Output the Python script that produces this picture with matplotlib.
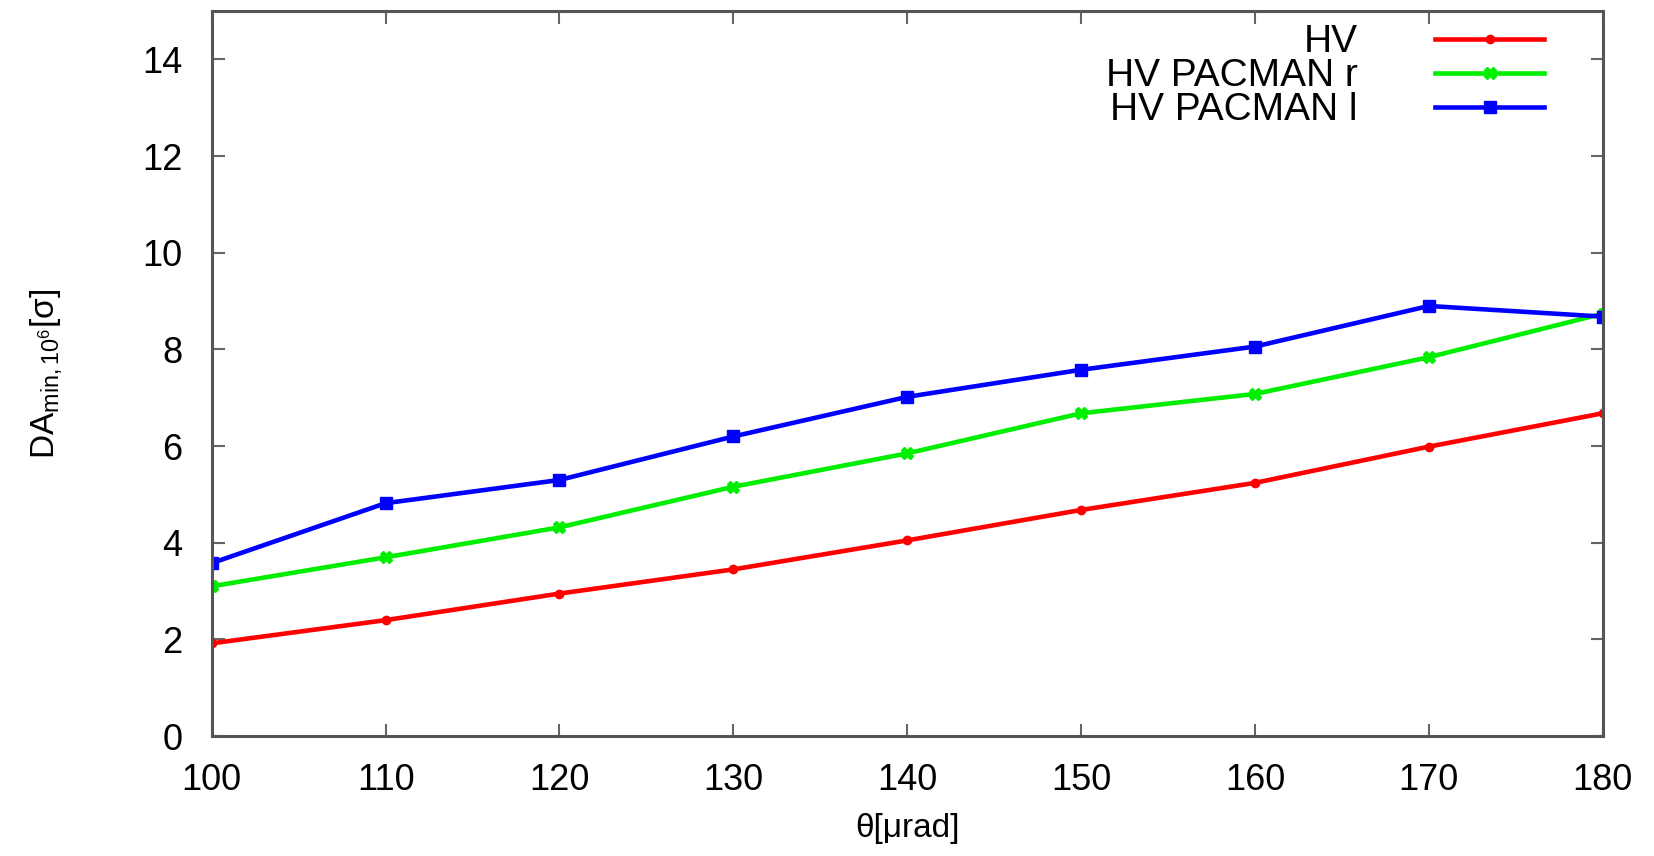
import numpy as np
import matplotlib
matplotlib.use("Agg")
import matplotlib.pyplot as plt

plt.rcParams['font.family'] = ['Liberation Sans', 'DejaVu Sans']
plt.rcParams['mathtext.fontset'] = 'custom'
plt.rcParams['mathtext.rm'] = 'Liberation Sans'
plt.rcParams['mathtext.it'] = 'Liberation Sans:italic'

# crossing angle in urad
theta = [100, 110, 120, 130, 140, 150, 160, 170, 180]

# minimum dynamic aperture after 10^6 turns, in sigma
da_hv = [1.92, 2.40, 2.95, 3.45, 4.05, 4.68, 5.24, 5.99, 6.68]
da_pacman_r = [3.10, 3.70, 4.32, 5.16, 5.85, 6.68, 7.08, 7.84, 8.74]
da_pacman_l = [3.58, 4.82, 5.30, 6.20, 7.02, 7.58, 8.06, 8.90, 8.68]

labels = ['HV', 'HV PACMAN r', 'HV PACMAN l']

fig = plt.figure(figsize=(16.54, 8.56), dpi=100)
ax = fig.add_axes([0.128, 0.140, 0.841, 0.847])

ax.plot(theta, da_hv, color='#ff0000', lw=3.3, marker='o', ms=6, label=labels[0])
ax.plot(theta, da_pacman_r, color='#00ee00', lw=3.3, marker='X', ms=8, label=labels[1])
ax.plot(theta, da_pacman_l, color='#0000ff', lw=3.3, marker='s', ms=9, label=labels[2])

ax.set_xlim(100, 180)
ax.set_ylim(0, 15)
ax.set_xticks(np.arange(100, 181, 10))
ax.set_yticks(np.arange(0, 15, 2))

for s in ax.spines.values():
    s.set_color('#555555')
    s.set_linewidth(2.2)

ax.tick_params(axis='both', which='both', direction='in', length=9, width=1.5,
               color='#666666', labelsize=26, top=True, right=True)
ax.tick_params(axis='x', pad=19)
ax.tick_params(axis='y', pad=21)

ax.set_xlabel(r'θ[μrad]', fontsize=24, labelpad=11)
ax.set_ylabel(r'DA$_{\mathrm{min},10^6}$[σ]', fontsize=24, labelpad=56)

leg = ax.legend(loc='upper right', bbox_to_anchor=(0.958, 0.982), frameon=False,
                fontsize=28, markerfirst=False, handlelength=2.8, handletextpad=2.0,
                labelspacing=-0.05, borderpad=0, borderaxespad=0)
# right-align legend text column
leg._legend_box.align = 'right'

fig.savefig('out.png', dpi=100)
